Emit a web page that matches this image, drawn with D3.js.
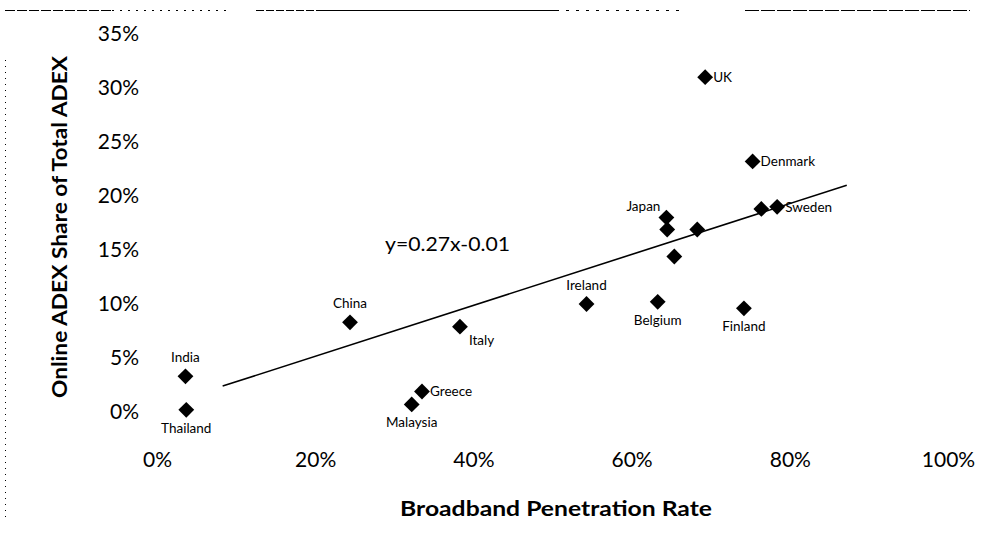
<!DOCTYPE html>
<html><head><meta charset="utf-8">
<script src="https://cdn.jsdelivr.net/npm/d3@7"></script>
<style>body{margin:0;background:#fff}svg{display:block}text{font-family:Lato,"Open Sans",sans-serif;fill:#000}</style>
</head><body><svg id="c" width="1000" height="547"></svg>
<script>
const countries = ["Thailand","India","China","Italy","Greece","Malaysia","Ireland","Belgium","Finland","Japan","","","","Denmark","UK","","Sweden"];
const penetration = [3.7,3.6,24.4,38.3,33.5,32.2,54.3,63.3,74.2,64.4,64.5,68.3,65.4,75.3,69.3,76.4,78.4];
const adexShare = [0.2,3.3,8.3,7.9,1.9,0.7,10.0,10.2,9.6,18.0,16.9,16.9,14.4,23.2,31.0,18.8,19.0];
const labelPlace = ["below","above","above","belowRight","right","below","above","below","below","aboveLeft","","","","right","right","","right"];
const xTicks = [0,20,40,60,80,100];
const yTicks = [0,5,10,15,20,25,30,35];
const trendX = [8.3,87.2];
const trendY = [2.4,21.0];
const trendLabel = "y=0.27x-0.01";

const svg = d3.select("#c");
const x = d3.scaleLinear().domain([0,100]).range([157,948]);
const y = d3.scaleLinear().domain([0,35]).range([412,34]);

// decorative border fragments
const border = svg.append("g").attr("stroke","#000").attr("fill","none");
border.append("line").attr("x1",5).attr("x2",112).attr("y1",10.5).attr("y2",10.5).attr("stroke-dasharray","10,2");
border.append("line").attr("x1",112).attr("x2",230).attr("y1",10.5).attr("y2",10.5).attr("stroke-dasharray","2,6");
border.append("line").attr("x1",256).attr("x2",322).attr("y1",10.5).attr("y2",10.5).attr("stroke-dasharray","8,2");
border.append("line").attr("x1",322).attr("x2",556).attr("y1",10.5).attr("y2",10.5);
border.append("line").attr("x1",556).attr("x2",680).attr("y1",10.5).attr("y2",10.5).attr("stroke-dasharray","3,7");
border.append("line").attr("x1",745).attr("x2",970).attr("y1",10.5).attr("y2",10.5).attr("stroke-dasharray","14,2");
border.append("line").attr("x1",5.5).attr("x2",5.5).attr("y1",60).attr("y2",520).attr("stroke-dasharray","1,5");

// axes (labels only)
const gx = svg.append("g").attr("transform","translate(0,442)")
  .call(d3.axisBottom(x).tickValues(xTicks).tickFormat(d=>d+"%").tickSize(0).tickPadding(10));
gx.select(".domain").remove();
gx.selectAll("text").attr("font-size",21).attr("font-family","Lato, sans-serif").attr("fill","#000");

const gy = svg.append("g").attr("transform","translate(139,0)")
  .call(d3.axisLeft(y).tickValues(yTicks).tickFormat(d=>d+"%").tickSize(0).tickPadding(0));
gy.select(".domain").remove();
gy.selectAll("text").attr("font-size",21).attr("font-family","Lato, sans-serif").attr("fill","#000");

// axis titles
svg.append("text").attr("x",556).attr("y",516).attr("text-anchor","middle")
  .attr("font-size",21).attr("font-weight","bold").attr("textLength",312).attr("lengthAdjust","spacingAndGlyphs").text("Broadband Penetration Rate");
svg.append("text").attr("transform","translate(67,227) rotate(-90)").attr("text-anchor","middle")
  .attr("font-size",21).attr("font-weight","bold").attr("textLength",342).attr("lengthAdjust","spacingAndGlyphs").text("Online ADEX Share of Total ADEX");

// trendline
svg.append("line").attr("x1",x(trendX[0])).attr("y1",y(trendY[0])).attr("x2",x(trendX[1])).attr("y2",y(trendY[1]))
  .attr("stroke","#000").attr("stroke-width",1.6);
svg.append("text").attr("x",385).attr("y",251).attr("font-size",19).attr("textLength",125).attr("lengthAdjust","spacingAndGlyphs").text(trendLabel);

// points
const data = penetration.map((p,i)=>({x:p,y:adexShare[i],name:countries[i],place:labelPlace[i]}));
const sym = d3.symbol().type(d3.symbolSquare).size(125);
svg.append("g").selectAll("path").data(data).join("path")
  .attr("d",sym).attr("fill","#000")
  .attr("transform",d=>`translate(${x(d.x)},${y(d.y)}) rotate(45)`);

const off = {
  right:{dx:8,dy:5,anchor:"start"},
  above:{dx:0,dy:-14,anchor:"middle"},
  below:{dx:0,dy:23,anchor:"middle"},
  belowRight:{dx:9,dy:18,anchor:"start"},
  aboveLeft:{dx:-6,dy:-7,anchor:"end"}
};
svg.append("g").selectAll("text").data(data.filter(d=>d.name)).join("text")
  .attr("x",d=>x(d.x)+off[d.place].dx).attr("y",d=>y(d.y)+off[d.place].dy)
  .attr("text-anchor",d=>off[d.place].anchor).attr("font-size",13.5).text(d=>d.name);
</script></body></html>
